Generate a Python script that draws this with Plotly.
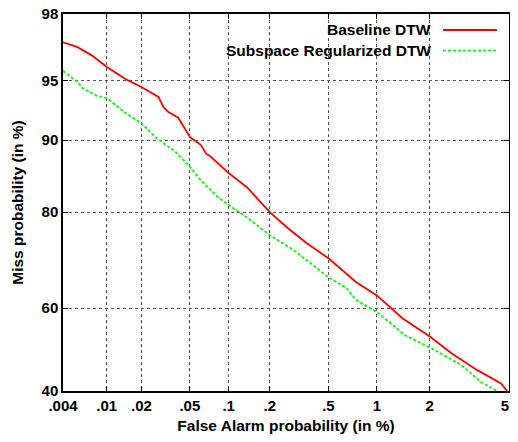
from statistics import NormalDist
import plotly.graph_objects as go

# DET curve values (percent)
baseline_fa = [0.004, 0.0054, 0.0074, 0.0101, 0.0147, 0.020, 0.0278, 0.0306, 0.0336, 0.0404,
               0.0503, 0.061, 0.067, 0.073, 0.1, 0.138, 0.171, 0.2, 0.263, 0.358,
               0.5, 0.65, 0.75, 1.0, 1.41, 2.03, 2.61, 3.53, 4.59, 4.9]
baseline_miss = [97.0, 96.8, 96.4, 95.8, 95.1, 94.6, 93.9, 93.1, 92.7, 92.2,
                 90.3, 89.5, 88.5, 88.1, 86.0, 83.9, 81.7, 80.0, 77.3, 74.3,
                 71.2, 68.0, 66.0, 63.0, 57.6, 53.0, 49.1, 45.0, 41.8, 40.0]

subspace_fa = [0.004, 0.0055, 0.0061, 0.0081, 0.0101, 0.0147, 0.020, 0.0263, 0.0383, 0.0503,
               0.061, 0.0825, 0.1, 0.138, 0.2, 0.293, 0.5, 0.65, 0.75, 1.0,
               1.46, 2.03, 2.94, 3.69, 4.39]
subspace_miss = [95.6, 94.9, 94.5, 94.0, 93.8, 92.6, 91.7, 90.3, 88.7, 86.8,
                 85.0, 82.5, 81.2, 79.0, 75.8, 72.9, 67.1, 64.7, 61.9, 59.1,
                 53.5, 50.4, 46.2, 42.1, 40.0]

x_ticks = [0.004, 0.01, 0.02, 0.05, 0.1, 0.2, 0.5, 1, 2, 5]
x_labels = [".004", ".01", ".02", ".05", ".1", ".2", ".5", "1", "2", "5&nbsp;&nbsp;"]
y_ticks = [40, 60, 80, 90, 95, 98]
y_labels = ["40", "60", "80", "90", "95", "98"]

nd = NormalDist()


def probit(vals):
    return [nd.inv_cdf(v / 100.0) for v in vals]


font = dict(family="Liberation Sans, Arial, sans-serif", size=15.5, color="black")

fig = go.Figure()
fig.add_trace(go.Scatter(x=probit(baseline_fa), y=probit(baseline_miss), mode="lines",
                         line=dict(color="#ff0000", width=1.8), name="Baseline DTW"))
fig.add_trace(go.Scatter(x=probit(subspace_fa), y=probit(subspace_miss), mode="lines",
                         line=dict(color="#00ff00", width=1.8, dash="3px,2px"),
                         name="Subspace Regularized DTW"))

axis_common = dict(showline=True, linecolor="black", linewidth=1.5, mirror="allticks",
                   ticks="inside", ticklen=5, tickcolor="black", automargin=False,
                   ticklabeloverflow="allow",
                   showgrid=True, gridcolor="#555555", griddash="dot", gridwidth=1,
                   zeroline=False, tickfont=dict(family=font["family"], size=15, color="black"))

fig.update_xaxes(range=[nd.inv_cdf(0.00004), nd.inv_cdf(0.05)],
                 tickvals=probit(x_ticks), ticktext=[f"<b>{t}</b>" for t in x_labels],
                 title=dict(text="<b>False Alarm probability (in %)</b>", font=font, standoff=11),
                 **axis_common)
fig.update_yaxes(range=[nd.inv_cdf(0.40), nd.inv_cdf(0.98)],
                 tickvals=probit(y_ticks), ticktext=[f"<b>{t}</b>" for t in y_labels],
                 title=dict(text="<b>Miss probability (in %)</b>", font=font, standoff=14),
                 **axis_common)

# gnuplot-style key: text on the left, line sample on the right
legend_rows = [("Baseline DTW", 0.9576, dict(color="#ff0000", width=1.8)),
               ("Subspace Regularized DTW", 0.9027, dict(color="#00ff00", width=1.8, dash="3px,2px"))]
for label, ypos, ln in legend_rows:
    fig.add_annotation(x=0.8296, y=ypos, xref="paper", yref="paper", text=f"<b>{label}</b>",
                       showarrow=False, xanchor="right", yanchor="middle", font=font)
    fig.add_shape(type="line", xref="paper", yref="paper", x0=0.852, x1=0.973,
                  y0=ypos, y1=ypos, line=ln)

# the page body has an 8px margin; keep the figure inside the window
fig.update_layout(width=502, height=426, showlegend=False,
                  margin=dict(l=55, r=1, t=6, b=43),
                  paper_bgcolor="white", plot_bgcolor="white", font=font)

fig.write_html("out.html")
